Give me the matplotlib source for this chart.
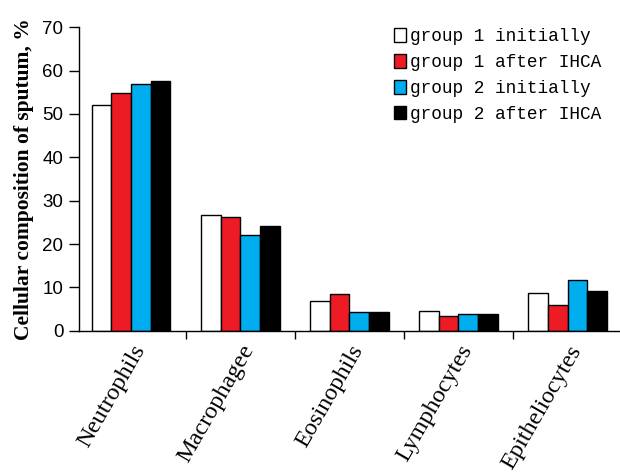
import numpy as np
import matplotlib
matplotlib.use("Agg")
from matplotlib import pyplot as plt
from matplotlib.transforms import ScaledTranslation

# Data
cells = ["Neutrophils", "Macrophagee", "Eosinophils", "Lymphocytes", "Epitheliocytes"]
series = ["group 1 initially", "group 1 after IHCA",
          "group 2 initially", "group 2 after IHCA"]
g1_initial = [52.1, 26.6, 6.9, 4.6, 8.8]
g1_after = [54.8, 26.3, 8.5, 3.4, 6.0]
g2_initial = [56.8, 22.0, 4.4, 3.9, 11.7]
g2_after = [57.6, 24.2, 4.4, 3.9, 9.2]
colors = ["white", "#ed1c24", "#00aeef", "black"]

fig = plt.figure(figsize=(6.2, 4.76), dpi=100)
ax = fig.add_axes([0.127, 0.305, 0.873, 0.638])

x = np.arange(len(cells))
w = 0.18
for i, (vals, c, lab) in enumerate(zip([g1_initial, g1_after, g2_initial, g2_after], colors, series)):
    ax.bar(x + (i - 1.5) * w, vals, w, color=c, edgecolor="black", linewidth=1.0, label=lab, zorder=2)

ax.set_xlim(-0.48, 4.48)
ax.set_ylim(0, 70)
ax.set_yticks(range(0, 71, 10))
ax.tick_params(axis="y", labelsize=13.5, length=7, width=1, direction="out", pad=4)
for t in ax.get_yticklabels():
    t.set_family("Liberation Sans")

# category boundaries carry the tick marks, labels sit at centres
ax.set_xticks(x[:-1] + 0.5)
ax.set_xticklabels([])
ax.tick_params(axis="x", length=6, width=1, direction="out")
ax.set_xticks(x, minor=True)
ax.set_xticklabels(cells, minor=True, rotation=60, ha="right", va="center",
                   rotation_mode="anchor", family="Liberation Serif", fontsize=17.5)
ax.tick_params(axis="x", which="minor", length=0, pad=10)
shift = ScaledTranslation(0.09, -0.02, fig.dpi_scale_trans)
for t in ax.get_xticklabels(minor=True):
    t.set_transform(t.get_transform() + shift)

for s in ["top", "right"]:
    ax.spines[s].set_visible(False)
ax.spines["left"].set_linewidth(1)
ax.spines["bottom"].set_linewidth(1)

ax.set_ylabel("Cellular composition of sputum, %", family="Liberation Serif",
              fontweight="bold", fontsize=15.5, labelpad=6)

ax.legend(loc="upper right", bbox_to_anchor=(0.978, 1.02), frameon=False,
          prop={"family": "Liberation Mono", "size": 12.8},
          handlelength=0.7, handleheight=0.8, handletextpad=0.2,
          labelspacing=0.5, borderaxespad=0)

fig.savefig("out.png", dpi=100)
